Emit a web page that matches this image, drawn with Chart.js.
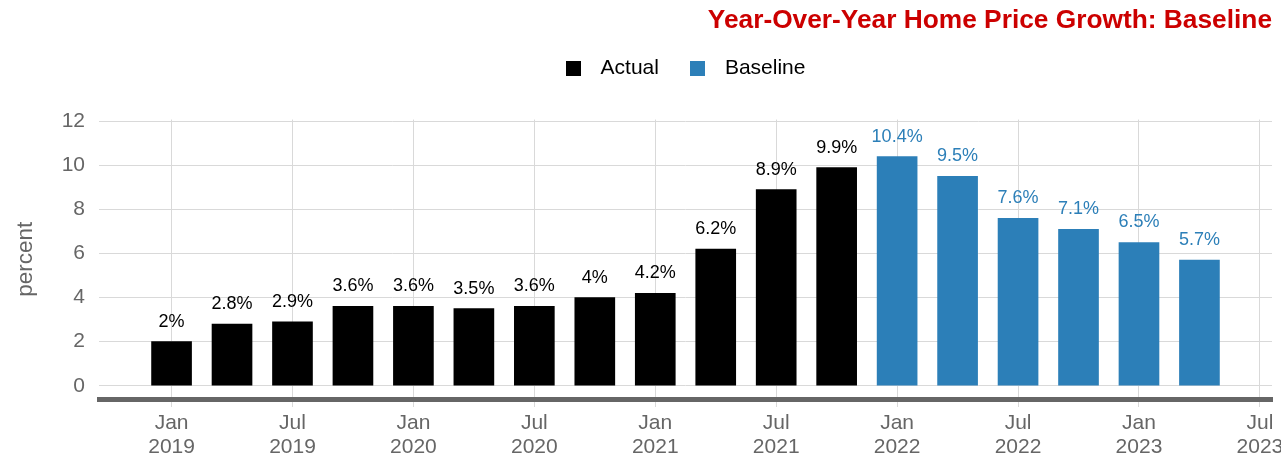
<!DOCTYPE html>
<html>
<head>
<meta charset="utf-8">
<title>Year-Over-Year Home Price Growth</title>
<script src="https://cdn.jsdelivr.net/npm/chart.js@4.4.1/dist/chart.umd.min.js"></script>
<style>
  html, body { margin: 0; padding: 0; background: #fff; }
</style>
</head>
<body>
<canvas id="priceChart" width="1281" height="462"></canvas>
<script>
// Quarterly YoY growth, actual history then baseline forecast
const quarters = [
  '2019 Q1', '2019 Q2', '2019 Q3', '2019 Q4',
  '2020 Q1', '2020 Q2', '2020 Q3', '2020 Q4',
  '2021 Q1', '2021 Q2', '2021 Q3', '2021 Q4',
  '2022 Q1', '2022 Q2', '2022 Q3', '2022 Q4',
  '2023 Q1', '2023 Q2'
];
const actualValues = [2.0, 2.8, 2.9, 3.6, 3.6, 3.5, 3.6, 4.0, 4.2, 6.2, 8.9, 9.9];
const baselineValues = [10.4, 9.5, 7.6, 7.1, 6.5, 5.7];

const yTicks = [0, 2, 4, 6, 8, 10, 12];
const xTickLabels = [
  ['Jan', '2019'], ['Jul', '2019'], ['Jan', '2020'], ['Jul', '2020'],
  ['Jan', '2021'], ['Jul', '2021'], ['Jan', '2022'], ['Jul', '2022'],
  ['Jan', '2023'], ['Jul', '2023']
];

const ACTUAL_COLOR = '#000000';
const BASELINE_COLOR = '#2C7FB8';
const GRID_COLOR = '#D9D9D9';
const AXIS_TEXT = '#666666';
const FONT = "'Liberation Sans', Arial, sans-serif";

// x is the quarter index, so Jan/Jul ticks fall on every second quarter
const actualPoints = actualValues.map((v, i) => ({ x: i, y: v }));
const baselinePoints = baselineValues.map((v, i) => ({ x: actualValues.length + i, y: v }));

// "2.8%" style labels above each bar
const valueLabels = {
  id: 'valueLabels',
  afterDatasetsDraw(chart) {
    const ctx = chart.ctx;
    ctx.save();
    ctx.font = '18px ' + FONT;
    ctx.textAlign = 'center';
    ctx.textBaseline = 'middle';
    chart.data.datasets.forEach((ds, di) => {
      const meta = chart.getDatasetMeta(di);
      ctx.fillStyle = ds.labelColor;
      meta.data.forEach((bar, i) => {
        ctx.fillText(ds.data[i].y + '%', bar.x, bar.y - 20);
      });
    });
    ctx.restore();
  }
};

// legend row centred over the plot area
const topLegend = {
  id: 'topLegend',
  afterDraw(chart) {
    const { ctx, chartArea } = chart;
    const box = 15, gap = 20, spacing = 31, y = 68;
    ctx.save();
    ctx.font = '21px ' + FONT;
    ctx.textBaseline = 'middle';
    ctx.textAlign = 'left';
    const items = chart.data.datasets.map(ds => ({
      text: ds.label,
      color: ds.backgroundColor,
      w: ctx.measureText(ds.label).width
    }));
    const total = items.reduce((s, it) => s + box + gap + it.w, 0) + spacing * (items.length - 1);
    let x = (chartArea.left + chartArea.right) / 2 - total / 2;
    items.forEach(it => {
      ctx.fillStyle = it.color;
      ctx.fillRect(Math.round(x), Math.round(y - box / 2), box, box);
      ctx.fillStyle = '#000000';
      ctx.fillText(it.text, x + box + gap, y);
      x += box + gap + it.w + spacing;
    });
    ctx.restore();
  }
};

new Chart(document.getElementById('priceChart'), {
  type: 'bar',
  data: {
    datasets: [
      { label: 'Actual', data: actualPoints, backgroundColor: ACTUAL_COLOR, labelColor: '#000000' },
      { label: 'Baseline', data: baselinePoints, backgroundColor: BASELINE_COLOR, labelColor: BASELINE_COLOR }
    ]
  },
  options: {
    responsive: false,
    animation: false,
    layout: { padding: { left: 0, right: 9, top: 0, bottom: 0 } },
    datasets: { bar: { grouped: false, barThickness: 40 } },
    plugins: {
      legend: { display: false },
      title: {
        display: true,
        text: 'Year-Over-Year Home Price Growth: Baseline',
        align: 'end',
        color: '#CC0000',
        font: { family: FONT, size: 26.3, weight: 'bold' },
        padding: { top: 5, bottom: 83 }
      },
      tooltip: {
        callbacks: { title: items => quarters[items[0].parsed.x] }
      }
    },
    scales: {
      x: {
        type: 'linear',
        min: -1.2,
        max: 18.2,
        offset: false,
        grid: { color: GRID_COLOR, tickLength: 8, offset: false },
        border: { color: '#666666', width: 5 },
        afterBuildTicks: s => { s.ticks = xTickLabels.map((_, i) => ({ value: i * 2 })); },
        afterFit: s => { s.paddingLeft = 0; s.paddingRight = 0; s.height = 63; },
        ticks: {
          autoSkip: false,
          maxRotation: 0,
          padding: 4,
          color: AXIS_TEXT,
          font: { family: FONT, size: 21, lineHeight: 1.14 },
          callback: (v, i) => xTickLabels[i]
        }
      },
      y: {
        min: -0.6,
        max: 12.08,
        afterBuildTicks: s => { s.ticks = yTicks.map(v => ({ value: v })); },
        afterFit: s => { s.width = 99; },
        grid: { color: GRID_COLOR, drawTicks: false },
        border: { display: false },
        ticks: { padding: 14, color: AXIS_TEXT, font: { family: FONT, size: 21 } },
        title: {
          display: true,
          text: 'percent',
          color: AXIS_TEXT,
          font: { family: FONT, size: 22.5 },
          padding: { top: 12, bottom: 0 }
        }
      }
    }
  },
  plugins: [valueLabels, topLegend]
});
</script>
</body>
</html>
